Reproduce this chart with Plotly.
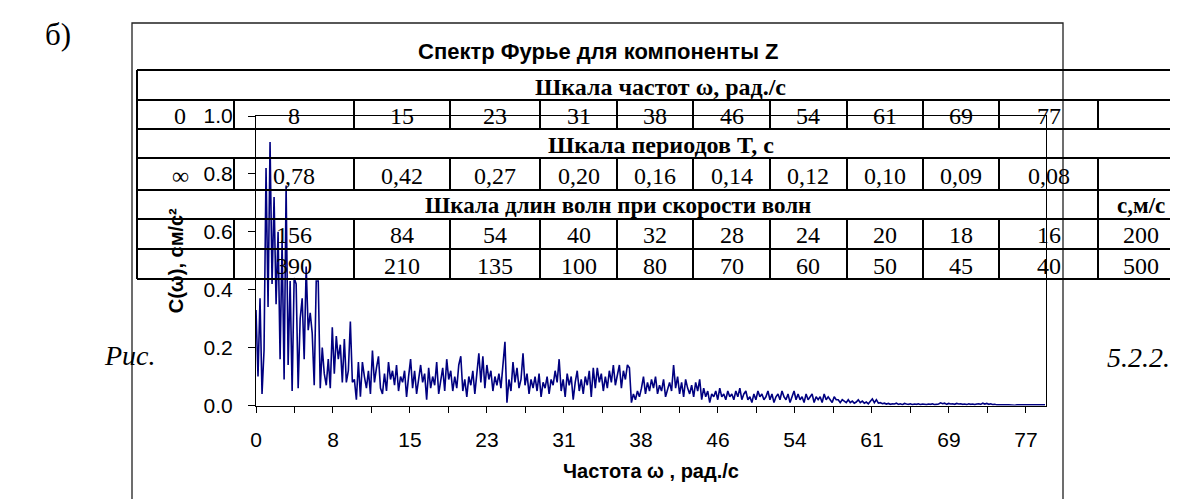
import plotly.graph_objects as go

# ---------------- data ----------------
freq_step = 0.2  # rad/s between spectrum samples
amplitude = [
    0.33, 0.10, 0.37, 0.04, 0.19, 0.82, 0.34, 0.91, 0.42, 0.72, 0.35, 0.60, 0.16, 0.57, 0.09, 0.76, 0.14, 0.43, 0.05, 0.44,
    0.42, 0.06, 0.30, 0.37, 0.16, 0.48, 0.26, 0.32, 0.25, 0.07, 0.43, 0.43, 0.06, 0.20, 0.11, 0.07, 0.16, 0.06, 0.27, 0.11,
    0.24, 0.16, 0.21, 0.08, 0.23, 0.08, 0.12, 0.29, 0.08, 0.09, 0.02, 0.15, 0.03, 0.15, 0.10, 0.06, 0.12, 0.04, 0.19, 0.08,
    0.13, 0.17, 0.06, 0.04, 0.11, 0.05, 0.15, 0.09, 0.12, 0.07, 0.14, 0.05, 0.10, 0.08, 0.12, 0.03, 0.10, 0.16, 0.06, 0.12,
    0.04, 0.09, 0.14, 0.08, 0.11, 0.02, 0.13, 0.06, 0.10, 0.07, 0.15, 0.04, 0.09, 0.13, 0.05, 0.16, 0.09, 0.12, 0.05, 0.10,
    0.06, 0.14, 0.17, 0.05, 0.09, 0.03, 0.10, 0.07, 0.12, 0.04, 0.11, 0.18, 0.08, 0.17, 0.06, 0.14, 0.09, 0.12, 0.05, 0.10,
    0.07, 0.11, 0.06, 0.13, 0.22, 0.01, 0.09, 0.05, 0.15, 0.08, 0.13, 0.06, 0.09, 0.18, 0.07, 0.11, 0.04, 0.09, 0.06, 0.10,
    0.05, 0.11, 0.03, 0.08, 0.06, 0.10, 0.04, 0.09, 0.07, 0.12, 0.08, 0.16, 0.05, 0.09, 0.03, 0.11, 0.07, 0.10, 0.02, 0.08,
    0.12, 0.05, 0.09, 0.04, 0.10, 0.07, 0.12, 0.03, 0.13, 0.06, 0.13, 0.08, 0.11, 0.05, 0.10, 0.06, 0.12, 0.08, 0.14, 0.07,
    0.11, 0.14, 0.06, 0.12, 0.09, 0.14, 0.13, 0.01, 0.04, 0.02, 0.05, 0.03, 0.06, 0.10, 0.04, 0.08, 0.05, 0.09, 0.06, 0.10,
    0.04, 0.07, 0.05, 0.09, 0.03, 0.06, 0.08, 0.05, 0.14, 0.06, 0.10, 0.04, 0.08, 0.03, 0.09, 0.06, 0.04, 0.07, 0.03, 0.08,
    0.05, 0.09, 0.02, 0.06, 0.03, 0.05, 0.01, 0.04, 0.03, 0.05, 0.02, 0.06, 0.03, 0.04, 0.02, 0.05, 0.03, 0.04, 0.02, 0.05,
    0.03, 0.06, 0.02, 0.04, 0.05, 0.02, 0.03, 0.01, 0.04, 0.02, 0.05, 0.03, 0.04, 0.02, 0.03, 0.05, 0.02, 0.04, 0.01, 0.03,
    0.04, 0.02, 0.05, 0.03, 0.02, 0.04, 0.01, 0.03, 0.05, 0.02, 0.04, 0.02, 0.03, 0.01, 0.04, 0.02, 0.03, 0.04, 0.01, 0.03,
    0.02, 0.03, 0.01, 0.04, 0.02, 0.03, 0.02, 0.01, 0.03, 0.02, 0.02, 0.01, 0.02, 0.015, 0.01, 0.02, 0.01, 0.015, 0.008, 0.012,
    0.02, 0.01, 0.015, 0.008, 0.012, 0.006, 0.015, 0.023, 0.01, 0.02, 0.008, 0.01, 0.006, 0.008, 0.005, 0.007, 0.004, 0.006, 0.005, 0.008,
    0.004, 0.006, 0.003, 0.007, 0.005, 0.004, 0.006, 0.003, 0.005, 0.004, 0.006, 0.003, 0.005, 0.004, 0.003, 0.005, 0.004, 0.006, 0.003, 0.004,
    0.005, 0.009, 0.006, 0.008, 0.004, 0.007, 0.005, 0.006, 0.004, 0.007, 0.005, 0.006, 0.004, 0.005, 0.003, 0.006, 0.004, 0.005, 0.003, 0.005,
    0.006, 0.004, 0.008, 0.005, 0.007, 0.004, 0.006, 0.003, 0.004, 0.002, 0.003, 0.002, 0.002, 0.001, 0.002, 0.002, 0.001, 0.002, 0.001, 0.002,
    0.002, 0.001, 0.002, 0.001, 0.002, 0.002, 0.001, 0.002, 0.001, 0.002, 0.001, 0.002, 0.001, 0.002,
]
frequency = [i * freq_step for i in range(len(amplitude))]

x_tick_labels = ["0", "8", "15", "23", "31", "38", "46", "54", "61", "69", "77"]
x_label_step = 7.67
x_max = 78.7
y_tick_values = [0.0, 0.2, 0.4, 0.6, 0.8, 1.0]

title_text = "Спектр Фурье для компоненты Z"
x_title = "Частота ω , рад./с"
y_title = "C(ω), см/с²"

# table content
freq_row = ["0", "8", "15", "23", "31", "38", "46", "54", "61", "69", "77"]
period_row = ["∞", "0,78", "0,42", "0,27", "0,20", "0,16", "0,14", "0,12", "0,10", "0,09", "0,08"]
wave200_row = ["", "156", "84", "54", "40", "32", "28", "24", "20", "18", "16", "200"]
wave500_row = ["", "390", "210", "135", "100", "80", "70", "60", "50", "45", "40", "500"]
header_freq = "Шкала частот ω, рад./с"
header_period = "Шкала периодов T, с"
header_wave = "Шкала длин волн при скорости волн"
header_speed = "с,м/с"

# ---------------- layout geometry (pixels) ----------------
W, H = 1178, 499
def px(x):
    return x / W
def py(y):
    return 1 - y / H

plot_l, plot_r, plot_t, plot_b = 248, 1038, 108, 397.5
col_x = [129, 226, 346, 442, 532, 609, 685, 762, 839, 915, 991, 1090, 1176]
row_y = [62, 92, 121, 150, 182, 211, 241, 271]

fig = go.Figure()
fig.add_trace(go.Scatter(
    x=frequency, y=amplitude, mode="lines",
    line=dict(color="#000080", width=1.6), hoverinfo="skip", showlegend=False,
))

major_ticks = [k * x_label_step for k in range(len(x_tick_labels))]
minor_ticks = [k * x_label_step + x_label_step / 2 for k in range(len(x_tick_labels) - 1)]

SANS = "Liberation Sans, Arial"
axis_font = dict(family=SANS, size=21, color="black")
title_font = dict(family=SANS, size=20, color="black")
fig.update_xaxes(
    domain=[px(plot_l), px(plot_r)], range=[0, x_max],
    tickmode="array", tickvals=major_ticks, ticktext=x_tick_labels,
    ticks="outside", ticklen=6, tickcolor="black", tickwidth=1,
    minor=dict(tickmode="array", tickvals=minor_ticks, ticks="outside",
               ticklen=6, tickcolor="black", tickwidth=1, showgrid=False),
    showline=True, linecolor="black", linewidth=1, mirror=True,
    showgrid=False, zeroline=False, tickfont=axis_font, ticklabelstandoff=9,
    title=dict(text="<b>" + x_title + "</b>", font=title_font, standoff=14),
    automargin=False,
)
fig.update_yaxes(
    domain=[py(plot_b), py(plot_t)], range=[0, 1.0],
    tickmode="array", tickvals=y_tick_values, tickformat=".1f",
    ticks="outside", ticklen=7, tickcolor="black", tickwidth=1,
    showline=True, linecolor="black", linewidth=1, mirror=True,
    showgrid=False, zeroline=False, tickfont=axis_font, ticklabelstandoff=11,
    title=dict(text="<b>" + y_title + "</b>", font=title_font, standoff=14),
    automargin=False,
)

shapes = []
LINE = dict(color="black", width=2)
# chart frame
shapes.append(dict(type="rect", xref="paper", yref="paper",
                   x0=px(124), x1=px(1055), y0=py(497), y1=py(15),
                   line=dict(color="#202020", width=1.3)))
# table horizontal lines
for y in row_y:
    shapes.append(dict(type="line", xref="paper", yref="paper",
                       x0=px(col_x[0]), x1=px(col_x[-1]), y0=py(y), y1=py(y), line=LINE))
# table outer verticals
for x in (col_x[0], col_x[-1]):
    shapes.append(dict(type="line", xref="paper", yref="paper",
                       x0=px(x), x1=px(x), y0=py(row_y[0]), y1=py(row_y[-1]), line=LINE))
# inner verticals for value rows
for r in (1, 3, 5, 6):
    for x in col_x[1:-1]:
        shapes.append(dict(type="line", xref="paper", yref="paper",
                           x0=px(x), x1=px(x), y0=py(row_y[r]), y1=py(row_y[r + 1]), line=LINE))
# speed header cell divider
shapes.append(dict(type="line", xref="paper", yref="paper",
                   x0=px(col_x[-2]), x1=px(col_x[-2]), y0=py(row_y[4]), y1=py(row_y[5]), line=LINE))

ann = []
def text(x, y, s, size, family="Liberation Serif, Times New Roman", bold=False, italic=False, angle=0):
    if bold:
        s = "<b>" + s + "</b>"
    if italic:
        s = "<i>" + s + "</i>"
    ann.append(dict(x=px(x), y=py(y), xref="paper", yref="paper", text=s, showarrow=False,
                    xanchor="center", yanchor="middle", textangle=angle,
                    font=dict(family=family, size=size, color="black")))

text(590, 44, title_text, 22, family=SANS, bold=True)

text(50, 27, "б)", 31)
text(122, 347, "Рис.", 28, italic=True)
text(1130, 349, "5.2.2.", 28, italic=True)

NUM = 24
text((col_x[0] + col_x[-1]) / 2, 79, header_freq, 24, bold=True)
text((col_x[0] + col_x[-1]) / 2, 137, header_period, 24, bold=True)
text((col_x[0] + col_x[-2]) / 2, 198, header_wave, 23, bold=True)
text((col_x[-2] + col_x[-1]) / 2, 198, header_speed, 23, bold=True)

def value_row(values, r):
    yc = (row_y[r] + row_y[r + 1]) / 2 + 1.5
    for i, v in enumerate(values):
        if v:
            xc = (col_x[i] + col_x[i + 1]) / 2
            if i == 0:
                xc = 172
            text(xc, yc, v, NUM)

value_row(freq_row, 1)
value_row(period_row, 3)
value_row(wave200_row, 5)
value_row(wave500_row, 6)

fig.update_layout(
    width=W, height=H, autosize=False,
    margin=dict(l=0, r=0, t=0, b=0),
    paper_bgcolor="white", plot_bgcolor="rgba(0,0,0,0)",
    shapes=shapes, annotations=ann, showlegend=False,
)

fig.write_html("out.html")
